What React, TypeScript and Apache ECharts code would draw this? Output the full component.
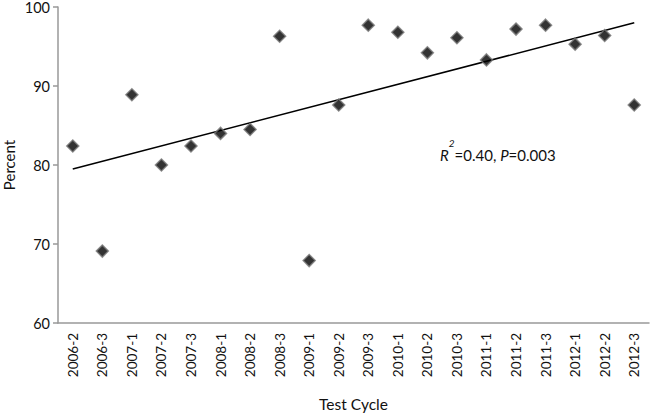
import React, { useEffect, useRef } from "react";
import * as echarts from "echarts";

const categories = [
  "2006-2", "2006-3", "2007-1", "2007-2", "2007-3", "2008-1", "2008-2", "2008-3",
  "2009-1", "2009-2", "2009-3", "2010-1", "2010-2", "2010-3", "2011-1", "2011-2",
  "2011-3", "2012-1", "2012-2", "2012-3",
];
const percentValues = [
  82.4, 69.1, 88.9, 80.0, 82.4, 84.0, 84.5, 96.3,
  67.9, 87.6, 97.7, 96.8, 94.2, 96.1, 93.3, 97.2,
  97.7, 95.3, 96.4, 87.6,
];
// trend line endpoints (first and last category)
const trendStart = 79.5;
const trendEnd = 98.0;
const yTicks = { min: 60, max: 100, interval: 10 };

const FONT = "Lato";

export default function App() {
  const ref = useRef<HTMLDivElement>(null);
  useEffect(() => {
    if (!ref.current) return;
    const chart = echarts.init(ref.current, null, { renderer: "svg" });
    chart.setOption({
      animation: false,
      backgroundColor: "#fff",
      grid: { left: 58, right: 1, top: 7, bottom: 92, containLabel: false, outerBoundsMode: "none" },
      xAxis: {
        type: "category",
        data: categories,
        boundaryGap: true,
        name: "Test Cycle",
        nameLocation: "middle",
        nameGap: 72,
        nameTextStyle: { fontFamily: FONT, fontSize: 15.5, color: "#111", lineHeight: 18 },
        axisLine: { lineStyle: { color: "#999", width: 1.5 } },
        axisTick: { show: false },
        axisLabel: {
          rotate: 90,
          interval: 0,
          margin: 10,
          fontFamily: FONT,
          fontSize: 13.5,
          color: "#111",
        },
        splitLine: { show: false },
      },
      yAxis: {
        type: "value",
        min: yTicks.min,
        max: yTicks.max,
        interval: yTicks.interval,
        axisLine: { show: true, lineStyle: { color: "#999", width: 1.5 } },
        axisTick: { show: true, length: 5, lineStyle: { color: "#999", width: 1.5 } },
        axisLabel: { fontFamily: FONT, fontSize: 14.5, color: "#111", margin: 8, lineHeight: 14 },
        splitLine: { show: false },
      },
      series: [
        {
          type: "line",
          data: [
            [categories[0], trendStart],
            [categories[categories.length - 1], trendEnd],
          ],
          symbol: "none",
          lineStyle: { color: "#000", width: 1.5 },
          z: 1,
        },
        {
          type: "scatter",
          data: percentValues,
          symbol: "diamond",
          symbolSize: 12,
          itemStyle: { color: "#000", borderColor: "#777", borderWidth: 1.5 },
          z: 2,
        },
      ],
      graphic: [
        {
          type: "text",
          x: 9,
          y: 165,
          rotation: Math.PI / 2,
          style: {
            text: "Percent",
            fontFamily: FONT,
            fontSize: 15,
            fill: "#111",
            align: "center",
            verticalAlign: "middle",
          },
        },
        {
          type: "text",
          left: 440,
          top: 138,
          style: {
            text: "{i|R}{s|2}{n|=0.40, }{i|P}{n|=0.003}",
            rich: {
              i: { fontFamily: FONT, fontSize: 15, fontStyle: "italic", fill: "#111", verticalAlign: "bottom", lineHeight: 24 },
              n: { fontFamily: FONT, fontSize: 15, fill: "#111", verticalAlign: "bottom", lineHeight: 24 },
              s: { fontFamily: FONT, fontSize: 10, fontStyle: "italic", fill: "#111", verticalAlign: "top", lineHeight: 24 },
            },
          },
        },
      ],
    });
    return () => chart.dispose();
  }, []);
  return <div ref={ref} style={{ width: 650, height: 415, position: "absolute", left: 0, top: 0 }} />;
}
